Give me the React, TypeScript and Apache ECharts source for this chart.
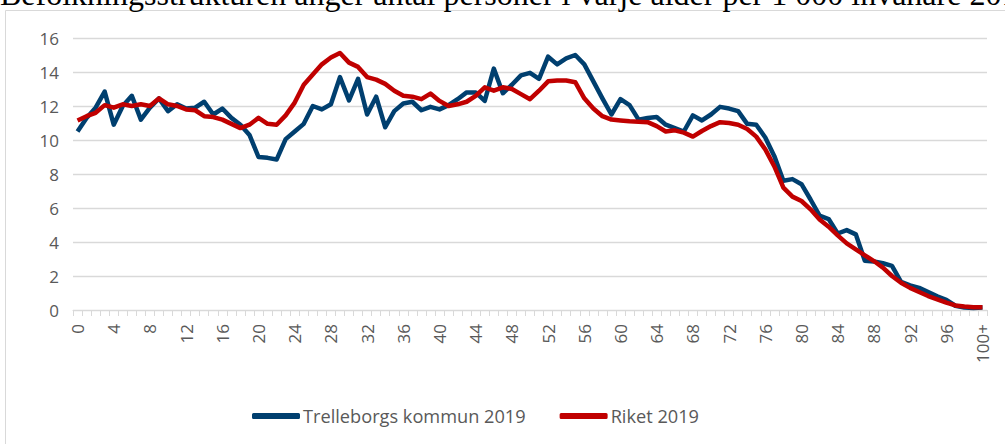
import React, { useEffect, useRef } from "react";
import * as echarts from "echarts";

const ages: string[] = Array.from({ length: 101 }, (_, i) => (i === 100 ? "100+" : String(i)));

const trelleborg: number[] = [
  10.5, 11.3, 11.9, 12.85, 10.9, 12.0, 12.6, 11.2, 11.9, 12.45,
  11.7, 12.1, 11.85, 11.9, 12.25, 11.5, 11.85, 11.3, 10.9, 10.3,
  9.0, 8.95, 8.85, 10.05, 10.5, 10.95, 12.0, 11.8, 12.1, 13.7,
  12.33, 13.6, 11.5, 12.55, 10.75, 11.7, 12.15, 12.25, 11.75, 11.95,
  11.8, 12.05, 12.4, 12.8, 12.8, 12.3, 14.2, 12.75, 13.25, 13.8,
  13.95, 13.6, 14.9, 14.45, 14.8, 15.0, 14.45, 13.45, 12.45, 11.5,
  12.4, 12.05, 11.2, 11.3, 11.35, 10.9, 10.7, 10.5, 11.45, 11.15,
  11.5, 11.95, 11.85, 11.7, 10.95, 10.9, 10.15, 9.05, 7.6, 7.7,
  7.4, 6.5, 5.55, 5.35, 4.5, 4.7, 4.45, 2.9, 2.85, 2.75,
  2.6, 1.65, 1.45, 1.3, 1.05, 0.8, 0.6, 0.25, 0.14, 0.12,
  0.14,
];

const riket: number[] = [
  11.15, 11.4, 11.6, 12.05, 11.9, 12.1, 12.0, 12.1, 12.0, 12.45,
  12.1, 12.0, 11.8, 11.75, 11.4, 11.35, 11.2, 10.95, 10.7, 10.9,
  11.3, 10.95, 10.9, 11.45, 12.2, 13.25, 13.85, 14.45, 14.85, 15.12,
  14.55, 14.3, 13.7, 13.55, 13.3, 12.9, 12.6, 12.55, 12.4, 12.73,
  12.3, 12.0, 12.1, 12.25, 12.6, 13.1, 12.9, 13.1, 13.0, 12.7,
  12.4, 12.9, 13.45, 13.5, 13.5, 13.4, 12.45, 11.85, 11.4, 11.2,
  11.15, 11.1, 11.08, 11.05, 10.82, 10.5, 10.57, 10.43, 10.2, 10.53,
  10.82, 11.05, 11.0, 10.9, 10.65, 10.2, 9.45, 8.45, 7.2, 6.67,
  6.41, 5.92, 5.33, 4.9, 4.39, 3.92, 3.57, 3.22, 2.88, 2.49,
  2.0, 1.6, 1.3, 1.06, 0.82, 0.63, 0.43, 0.27, 0.2, 0.16,
  0.16,
];

const seriesNames: string[] = ["Trelleborgs kommun 2019", "Riket 2019"];
const titleText = "Befolkningsstrukturen anger antal personer i varje ålder per 1 000 invånare 2019";

const BLUE = "#003f6f";
const RED = "#c00000";
const FONT = "'Open Sans', 'Noto Sans', sans-serif";

export default function App() {
  const ref = useRef<HTMLDivElement>(null);

  useEffect(() => {
    if (!ref.current) return;
    const chart = echarts.init(ref.current, undefined, { renderer: "svg" });
    chart.setOption({
      animation: false,
      backgroundColor: "#ffffff",
      graphic: [
        {
          type: "rect",
          shape: { x: 5.5, y: 10.5, width: 1100, height: 600 },
          style: { fill: "none", stroke: "#d9d9d9", lineWidth: 1 },
          silent: true,
        },
        {
          type: "text",
          x: 0,
          y: -22,
          style: {
            text: titleText,
            font: "32px 'Liberation Serif', 'Times New Roman', serif",
            fill: "#000000",
            textAlign: "left",
            verticalAlign: "top",
          },
          silent: true,
        },
      ],
      grid: { left: 73, right: 18, top: 38, bottom: 134, containLabel: false },
      legend: {
        bottom: 14,
        left: 247,
        itemWidth: 48,
        itemHeight: 6,
        itemGap: 34,
        icon: "roundRect",
        textStyle: { fontFamily: FONT, fontSize: 18.2, color: "#595959", padding: [0, 0, 0, -2] },
        data: seriesNames,
      },
      xAxis: {
        type: "category",
        data: ages,
        boundaryGap: true,
        axisLine: { show: true, lineStyle: { color: "#d9d9d9", width: 1 } },
        axisTick: { show: true, interval: 0, length: 6, lineStyle: { color: "#d9d9d9" } },
        axisLabel: {
          interval: 3,
          rotate: 90,
          margin: 14,
          fontFamily: FONT,
          fontSize: 17,
          color: "#595959",
        },
        splitLine: { show: false },
      },
      yAxis: {
        type: "value",
        min: 0,
        max: 16,
        interval: 2,
        axisLine: { show: false },
        axisTick: { show: false },
        axisLabel: { margin: 14, fontFamily: FONT, fontSize: 17, color: "#595959" },
        splitLine: { lineStyle: { color: "#d9d9d9", width: 1.3 } },
      },
      series: [
        {
          name: seriesNames[0],
          type: "line",
          data: trelleborg,
          showSymbol: false,
          symbol: "none",
          lineStyle: { color: BLUE, width: 4.5, join: "round" },
          itemStyle: { color: BLUE },
        },
        {
          name: seriesNames[1],
          type: "line",
          data: riket,
          showSymbol: false,
          symbol: "none",
          lineStyle: { color: RED, width: 4.5, join: "round" },
          itemStyle: { color: RED },
        },
      ],
    });
    return () => chart.dispose();
  }, []);

  return (
    <div
      ref={ref}
      style={{ position: "fixed", left: 0, top: 0, width: 1005, height: 444, background: "#fff" }}
    />
  );
}
